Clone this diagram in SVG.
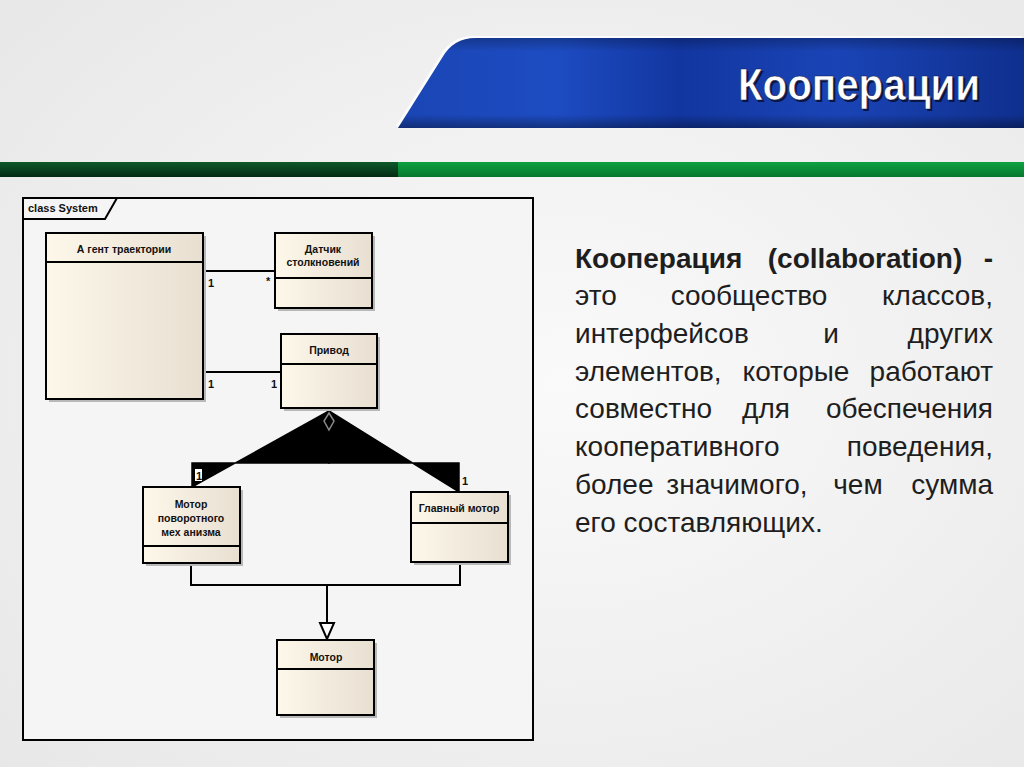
<svg xmlns="http://www.w3.org/2000/svg" width="1024" height="767" viewBox="0 0 1024 767">
<defs>
  <radialGradient id="bg" cx="0.55" cy="0.5" r="0.8">
    <stop offset="0" stop-color="#fafafa"/>
    <stop offset="1" stop-color="#e6e6e6"/>
  </radialGradient>
  <linearGradient id="banner" x1="0" y1="0" x2="1" y2="0">
    <stop offset="0" stop-color="#1a45b4"/>
    <stop offset="0.25" stop-color="#1d4cc2"/>
    <stop offset="0.45" stop-color="#1236a0"/>
    <stop offset="0.7" stop-color="#1a44b6"/>
    <stop offset="1" stop-color="#0f2f8e"/>
  </linearGradient>
  <linearGradient id="bannerV" x1="0" y1="0" x2="0" y2="1">
    <stop offset="0" stop-color="#000" stop-opacity="0.25"/>
    <stop offset="0.15" stop-color="#000" stop-opacity="0"/>
    <stop offset="0.85" stop-color="#000" stop-opacity="0"/>
    <stop offset="1" stop-color="#000" stop-opacity="0.35"/>
  </linearGradient>
  <linearGradient id="gDark" x1="0" y1="0" x2="0" y2="1">
    <stop offset="0" stop-color="#0e5a2a"/>
    <stop offset="1" stop-color="#032a14"/>
  </linearGradient>
  <linearGradient id="gLight" x1="0" y1="0" x2="0" y2="1">
    <stop offset="0" stop-color="#0fa043"/>
    <stop offset="1" stop-color="#06772d"/>
  </linearGradient>
  <linearGradient id="cls" x1="0" y1="0" x2="1" y2="0">
    <stop offset="0" stop-color="#fdf8ea"/>
    <stop offset="1" stop-color="#e8dfd1"/>
  </linearGradient>
  <style>
    .box{fill:url(#cls);stroke:#000;stroke-width:2}
    .shadow{fill:#b8b8b8}
    .div{stroke:#000;stroke-width:2}
    .cn{font-family:"Liberation Sans",Arial,sans-serif;font-weight:bold;font-size:10.5px;fill:#111;text-anchor:middle}
    .mult{font-family:"Liberation Sans",Arial,sans-serif;font-weight:bold;font-size:11px;fill:#111}
    .ln{fill:none;stroke:#000;stroke-width:2}
    .body{font-family:"Liberation Sans",Arial,sans-serif;font-size:28px;fill:#1e1e1e}
    .end{text-anchor:end}
    .mid{text-anchor:middle}
  </style>
</defs>

<rect x="0" y="0" width="1024" height="767" fill="url(#bg)"/>

<g id="header">
  <path d="M398,128 L442,58 Q453,38 476,38 L1024,38 L1024,128 Z" fill="#ffffff" opacity="0.8" transform="translate(-2,-2)"/>
  <path d="M398,128 L442,58 Q453,38 476,38 L1024,38 L1024,128 Z" fill="url(#banner)"/>
  <path d="M398,128 L442,58 Q453,38 476,38 L1024,38 L1024,128 Z" fill="url(#bannerV)"/>
  <text x="861" y="102" font-family="Liberation Sans,Arial,sans-serif" font-weight="bold" font-size="44" fill="#0a1540" text-anchor="middle" textLength="242" lengthAdjust="spacingAndGlyphs">Кооперации</text>
  <text x="859" y="100" font-family="Liberation Sans,Arial,sans-serif" font-weight="bold" font-size="44" fill="#ffffff" text-anchor="middle" textLength="242" lengthAdjust="spacingAndGlyphs" stroke="#0a1a55" stroke-width="0.6">Кооперации</text>
  <rect x="0" y="162" width="398" height="15" fill="url(#gDark)"/>
  <rect x="398" y="162" width="626" height="15" fill="url(#gLight)"/>
</g>

<g id="frame">
  <rect x="23" y="198" width="510" height="542" fill="#f5f5f5" stroke="#000" stroke-width="2"/>
  <path d="M23,219 L105,219 L117,198" fill="none" stroke="#000" stroke-width="2"/>
  <text x="28" y="212" font-family="Liberation Sans,Arial,sans-serif" font-weight="bold" font-size="11" fill="#111">class System</text>
</g>

<g id="connectors">
  <line class="ln" x1="203" y1="271" x2="275" y2="271"/>
  <line class="ln" x1="203" y1="372" x2="281" y2="372"/>
  <path d="M329,411 L192,487 L192,463 L329,463 Z" fill="#000" stroke="#000" stroke-width="1.5"/>
  <path d="M329,411 L459,492 L459,463 L329,463 Z" fill="#000" stroke="#000" stroke-width="1.5"/>
  <path d="M329,413 L334,421 L329,430 L324,421 Z" fill="none" stroke="#8a8a8a" stroke-width="1.5"/>
  <rect x="195" y="469" width="7" height="12" fill="#fff"/>
  <path class="ln" d="M191,563 L191,585 L460,585 L460,563"/>
  <line class="ln" x1="327" y1="585" x2="327" y2="623"/>
  <path d="M320,623 L334,623 L327,639 Z" fill="#fff" stroke="#000" stroke-width="2"/>
  <text class="mult" x="208" y="287">1</text>
  <text class="mult" x="266" y="285">*</text>
  <text class="mult" x="208" y="388">1</text>
  <text class="mult" x="271" y="388">1</text>
  <text class="mult" x="196" y="480" font-size="10">1</text>
  <text class="mult" x="462" y="485">1</text>
</g>

<g id="agent">
  <rect class="shadow" x="49" y="236" width="157" height="166"/>
  <rect class="box" x="46" y="233" width="157" height="166"/>
  <line class="div" x1="46" y1="262" x2="203" y2="262"/>
  <text class="cn" x="124" y="253">А гент траектории</text>
</g>

<g id="sensor">
  <rect class="shadow" x="278" y="236" width="97" height="75"/>
  <rect class="box" x="275" y="233" width="97" height="75"/>
  <line class="div" x1="275" y1="278" x2="372" y2="278"/>
  <text class="cn" x="323" y="253">Датчик</text>
  <text class="cn" x="323" y="266">столкновений</text>
</g>

<g id="drive">
  <rect class="shadow" x="284" y="337" width="96" height="74"/>
  <rect class="box" x="281" y="334" width="96" height="74"/>
  <line class="div" x1="281" y1="364" x2="377" y2="364"/>
  <text class="cn" x="329" y="354">Привод</text>
</g>

<g id="turnMotor">
  <rect class="shadow" x="146" y="490" width="97" height="76"/>
  <rect class="box" x="143" y="487" width="97" height="76"/>
  <line class="div" x1="143" y1="546" x2="240" y2="546"/>
  <text class="cn" x="191" y="508">Мотор</text>
  <text class="cn" x="191" y="522">поворотного</text>
  <text class="cn" x="191" y="536">мех анизма</text>
</g>

<g id="mainMotor">
  <rect class="shadow" x="414" y="495" width="97" height="70"/>
  <rect class="box" x="411" y="492" width="97" height="70"/>
  <line class="div" x1="411" y1="523" x2="508" y2="523"/>
  <text class="cn" x="459" y="512">Главный мотор</text>
</g>

<g id="motor">
  <rect class="shadow" x="280" y="643" width="97" height="75"/>
  <rect class="box" x="277" y="640" width="97" height="75"/>
  <line class="div" x1="277" y1="669" x2="374" y2="669"/>
  <text class="cn" x="326" y="661">Мотор</text>
</g>

<g id="description">
  <text class="body" x="575" y="268" font-weight="bold">Кооперация</text>
  <text class="body mid" x="865" y="268" font-weight="bold">(collaboration)</text>
  <text class="body end" x="993" y="268" font-weight="bold">-</text>
  <text class="body" x="575" y="305">это</text>
  <text class="body mid" x="749" y="305">сообщество</text>
  <text class="body end" x="993" y="305">классов,</text>
  <text class="body" x="575" y="343">интерфейсов</text>
  <text class="body mid" x="831" y="343">и</text>
  <text class="body end" x="993" y="343">других</text>
  <text class="body" x="575" y="381">элементов,</text>
  <text class="body mid" x="796" y="381">которые</text>
  <text class="body end" x="993" y="381">работают</text>
  <text class="body" x="575" y="418">совместно</text>
  <text class="body mid" x="766" y="418">для</text>
  <text class="body end" x="993" y="418">обеспечения</text>
  <text class="body" x="575" y="456">кооперативного</text>
  <text class="body end" x="993" y="456">поведения,</text>
  <text class="body" x="575" y="494">более</text>
  <text class="body mid" x="737" y="494">значимого,</text>
  <text class="body mid" x="858" y="494">чем</text>
  <text class="body end" x="993" y="494">сумма</text>
  <text class="body" x="575" y="532">его составляющих.</text>
</g>
</svg>
